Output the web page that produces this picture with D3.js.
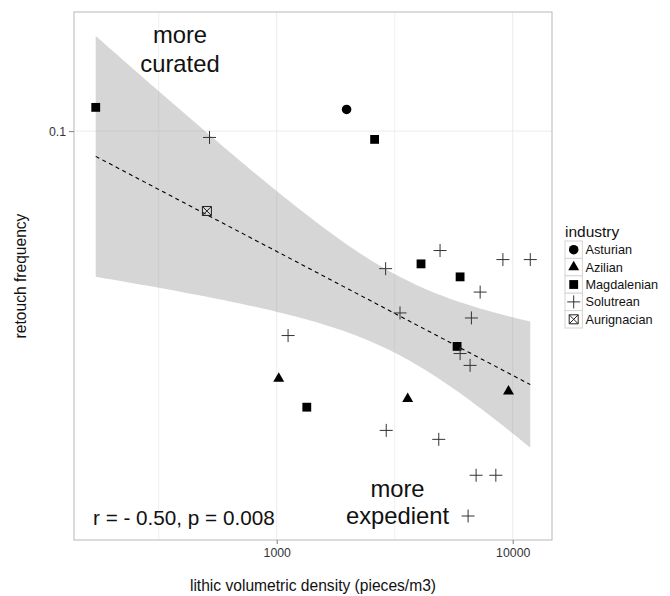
<!DOCTYPE html>
<html lang="en">
<head>
    <meta charset="UTF-8">
    <title>retouch-vs-density</title>
    <script src="https://cdn.jsdelivr.net/npm/d3@7/dist/d3.min.js"></script>
    <style>
        body { margin: 0; background: #fff; }
        text { font-family: "Liberation Sans", Arial, Helvetica, sans-serif; }
    </style>
</head>
<body>
    <svg class="chart"></svg>
</body>
<script>
    // data
    var industries = ["Asturian", "Azilian", "Magdalenian", "Solutrean", "Aurignacian"];

    var density = [1977,
        1020, 3589, 9598,
        171, 2599, 4088, 5985, 5812, 1341,
        519, 2894, 4922, 9087, 11870, 7278, 3330, 6683, 5985, 6598, 2911, 4860, 6998, 8483, 6471, 1117,
        506];
    var retouch = [0.1110,
        0.0304, 0.0276, 0.0286,
        0.1121, 0.0961, 0.0528, 0.0496, 0.0355, 0.0265,
        0.0970, 0.0516, 0.0563, 0.0539, 0.0539, 0.0461, 0.0417, 0.0407, 0.0343, 0.0324, 0.0237, 0.0227, 0.0191, 0.0191, 0.0157, 0.0374,
        0.0681];
    var industry = ["Asturian",
        "Azilian", "Azilian", "Azilian",
        "Magdalenian", "Magdalenian", "Magdalenian", "Magdalenian", "Magdalenian", "Magdalenian",
        "Solutrean", "Solutrean", "Solutrean", "Solutrean", "Solutrean", "Solutrean", "Solutrean", "Solutrean",
        "Solutrean", "Solutrean", "Solutrean", "Solutrean", "Solutrean", "Solutrean", "Solutrean", "Solutrean",
        "Aurignacian"];

    var xTicks = [1000, 10000];
    var yTicks = [0.1];
    var statLabel = "r = - 0.50, p = 0.008";

    var width = 670, height = 596;
    var panel = { left: 74, right: 552, top: 12, bottom: 540 };

    var data = density.map(function (d, i) {
        return { x: d, y: retouch[i], ind: industry[i] };
    });

    // linear model on log10 scales with 95% band (like geom_smooth(method = lm))
    var lx = data.map(function (d) { return Math.log10(d.x); });
    var ly = data.map(function (d) { return Math.log10(d.y); });
    var n = data.length;
    var mx = d3.mean(lx), my = d3.mean(ly);
    var sxx = d3.sum(lx, function (v) { return (v - mx) * (v - mx); });
    var sxy = d3.sum(lx, function (v, i) { return (v - mx) * (ly[i] - my); });
    var slope = sxy / sxx, icpt = my - slope * mx;
    var rss = d3.sum(lx, function (v, i) { var e = ly[i] - (icpt + slope * v); return e * e; });
    var s = Math.sqrt(rss / (n - 2));
    var tq = 2.0595; // t(0.975, 25)

    var xExt = d3.extent(lx);
    var fit = d3.range(80).map(function (k) {
        var v = xExt[0] + (xExt[1] - xExt[0]) * k / 79;
        var f = icpt + slope * v;
        var se = s * Math.sqrt(1 / n + (v - mx) * (v - mx) / sxx);
        return { x: Math.pow(10, v), y: Math.pow(10, f), lo: Math.pow(10, f - tq * se), hi: Math.pow(10, f + tq * se) };
    });

    // scale domains expanded by 5% in log space
    function expand(ext) {
        var a = Math.log10(ext[0]), b = Math.log10(ext[1]), p = (b - a) * 0.05;
        return [Math.pow(10, a - p), Math.pow(10, b + p)];
    }
    var yAll = retouch.concat(fit.map(function (d) { return d.lo; }), fit.map(function (d) { return d.hi; }));

    var x = d3.scaleLog().domain(expand(d3.extent(density))).range([panel.left, panel.right]);
    var y = d3.scaleLog().domain(expand(d3.extent(yAll))).range([panel.bottom, panel.top]);

    var svg = d3.select('.chart')
        .attr('width', width)
        .attr('height', height);

    // grid
    var xMinor = [Math.pow(10, 2.5), Math.pow(10, 3.5)];
    svg.append('g').selectAll('line').data(xMinor).enter().append('line')
        .attr('x1', function (d) { return x(d); }).attr('x2', function (d) { return x(d); })
        .attr('y1', panel.top).attr('y2', panel.bottom)
        .attr('stroke', '#f0f0f0').attr('stroke-width', 1);
    svg.append('g').selectAll('line').data(xTicks).enter().append('line')
        .attr('x1', function (d) { return x(d); }).attr('x2', function (d) { return x(d); })
        .attr('y1', panel.top).attr('y2', panel.bottom)
        .attr('stroke', '#ebebeb').attr('stroke-width', 1);
    svg.append('g').selectAll('line').data(yTicks).enter().append('line')
        .attr('y1', function (d) { return y(d); }).attr('y2', function (d) { return y(d); })
        .attr('x1', panel.left).attr('x2', panel.right)
        .attr('stroke', '#ebebeb').attr('stroke-width', 1);

    // confidence band + fit line
    svg.append('path')
        .datum(fit)
        .attr('d', d3.area()
            .x(function (d) { return x(d.x); })
            .y0(function (d) { return y(d.lo); })
            .y1(function (d) { return y(d.hi); }))
        .attr('fill', '#999999')
        .attr('fill-opacity', 0.4);

    svg.append('path')
        .datum(fit)
        .attr('d', d3.line()
            .x(function (d) { return x(d.x); })
            .y(function (d) { return y(d.y); }))
        .attr('fill', 'none')
        .attr('stroke', '#000')
        .attr('stroke-width', 1.1)
        .attr('stroke-dasharray', '4,3.5');

    // symbols
    function drawShape(g, ind) {
        if (ind === 'Asturian') {
            g.append('path').attr('d', d3.symbol(d3.symbolCircle, 72)()).attr('fill', '#000');
        } else if (ind === 'Azilian') {
            g.append('path').attr('d', d3.symbol(d3.symbolTriangle, 52)()).attr('fill', '#000');
        } else if (ind === 'Magdalenian') {
            g.append('path').attr('d', d3.symbol(d3.symbolSquare, 78)()).attr('fill', '#000');
        } else if (ind === 'Solutrean') {
            g.append('path').attr('d', 'M-6.5,0H6.5M0,-6.5V6.5')
                .attr('stroke', '#333').attr('stroke-width', 1).attr('fill', 'none');
        } else {
            g.append('path').attr('d', 'M-4.5,-4.5H4.5V4.5H-4.5ZM-4.5,-4.5L4.5,4.5M4.5,-4.5L-4.5,4.5')
                .attr('stroke', '#222').attr('stroke-width', 1).attr('fill', 'none');
        }
    }

    svg.append('g').selectAll('g').data(data).enter().append('g')
        .attr('transform', function (d) { return 'translate(' + x(d.x) + ',' + y(d.y) + ')'; })
        .each(function (d) { drawShape(d3.select(this), d.ind); });

    // panel border
    svg.append('rect')
        .attr('x', panel.left).attr('y', panel.top)
        .attr('width', panel.right - panel.left).attr('height', panel.bottom - panel.top)
        .attr('fill', 'none').attr('stroke', '#c4c4c4').attr('stroke-width', 1.2);

    // axes
    var xAxis = svg.append('g')
        .attr('transform', 'translate(0,' + panel.bottom + ')')
        .call(d3.axisBottom(x).tickValues(xTicks).tickFormat(d3.format('d')).tickSize(4).tickPadding(4));
    var yAxis = svg.append('g')
        .attr('transform', 'translate(' + panel.left + ',0)')
        .call(d3.axisLeft(y).tickValues(yTicks).tickFormat(function (d) { return d; }).tickSize(5).tickPadding(3));
    [xAxis, yAxis].forEach(function (a) {
        a.select('.domain').remove();
        a.selectAll('line').attr('stroke', '#7f7f7f');
        a.selectAll('text').attr('fill', '#333').style('font-size', '12.3px')
            .style('font-family', '"Liberation Sans", Arial, sans-serif');
    });

    // axis titles
    svg.append('text')
        .attr('x', (panel.left + panel.right) / 2).attr('y', 591)
        .attr('text-anchor', 'middle').style('font-size', '15.6px').attr('fill', '#111')
        .text('lithic volumetric density (pieces/m3)');
    svg.append('text')
        .attr('transform', 'translate(26,' + (panel.top + panel.bottom) / 2 + ') rotate(-90)')
        .attr('text-anchor', 'middle').style('font-size', '15.6px').attr('fill', '#111')
        .text('retouch frequency');

    // annotations
    var ann = svg.append('g').attr('fill', '#111').style('font-size', '23.8px').attr('text-anchor', 'middle');
    ann.append('text').attr('x', 180).attr('y', 43).text('more');
    ann.append('text').attr('x', 180).attr('y', 71.5).text('curated');
    ann.append('text').attr('x', 397.5).attr('y', 496.5).text('more');
    ann.append('text').attr('x', 397.5).attr('y', 524).text('expedient');
    svg.append('text').attr('x', 93).attr('y', 525).attr('fill', '#111')
        .style('font-size', '20.7px').text(statLabel);

    // legend
    var leg = svg.append('g').attr('transform', 'translate(565,241)');
    leg.append('text').attr('x', 0).attr('y', -4.5).style('font-size', '15.5px').attr('fill', '#111').text('industry');
    var keyH = 17.4;
    var rows = leg.selectAll('g.key').data(industries).enter().append('g')
        .attr('class', 'key')
        .attr('transform', function (d, i) { return 'translate(0,' + i * keyH + ')'; });
    rows.append('rect')
        .attr('width', 17.4).attr('height', keyH)
        .attr('fill', '#fff').attr('stroke', '#d4d4d4').attr('stroke-width', 1);
    rows.append('g')
        .attr('transform', 'translate(8.7,' + keyH / 2 + ')')
        .each(function (d) { drawShape(d3.select(this), d); });
    rows.append('text')
        .attr('x', 20.5).attr('y', keyH / 2 + 4.5)
        .style('font-size', '12.7px').attr('fill', '#111')
        .text(function (d) { return d; });
</script>
</html>
